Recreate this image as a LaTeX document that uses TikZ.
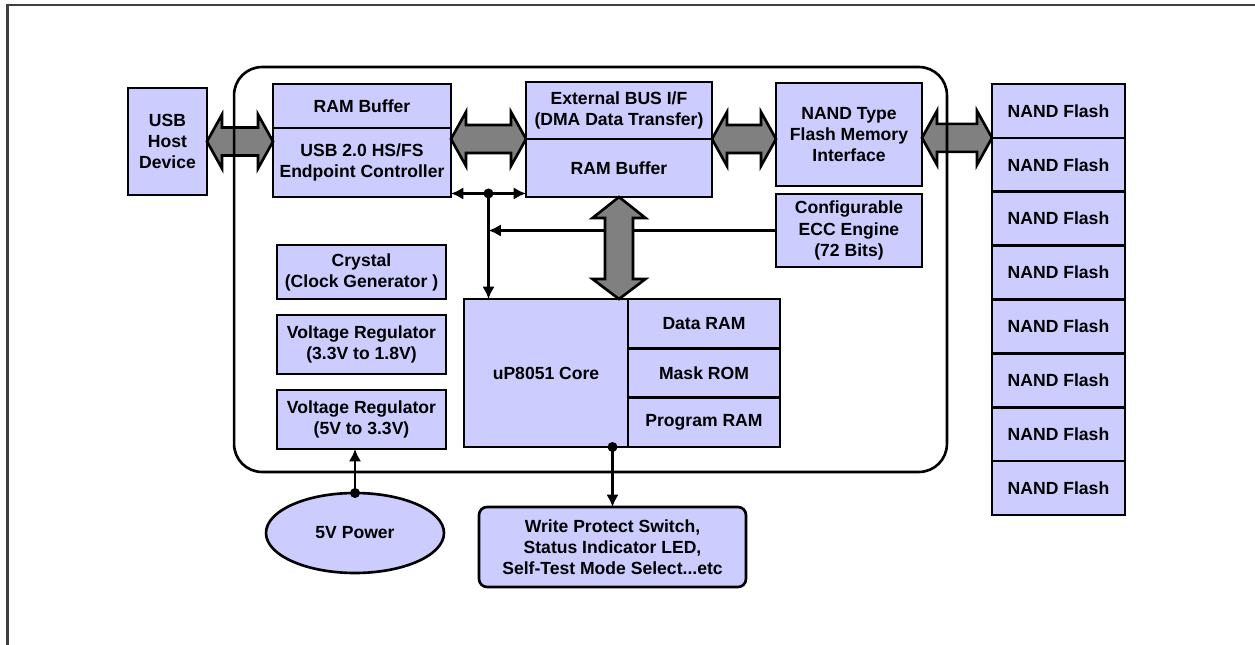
\documentclass[tikz,border=0pt]{standalone}
\usepackage{fontspec}
\setmainfont{Liberation Sans}
\usetikzlibrary{calc,shapes.geometric,arrows.meta}
\definecolor{blkfill}{RGB}{204,204,255}
\definecolor{busgray}{RGB}{128,128,128}
\tikzset{
    blk/.style={draw=black, fill=blkfill, line width=1.5pt, inner sep=0pt, outer sep=0pt,
        align=center, font=\bfseries\fontsize{10}{12}\selectfont},
    bus/.style={fill=busgray, draw=black, line width=1.5pt},
    link/.style={line width=1.6pt},
    chipbox/.style={draw=black, line width=1.5pt, rounded corners=0.56cm, inner sep=0pt}
}
\newcommand\hbus[2]{\filldraw[bus] let \p1=(#1), \p2=(#2) in
    (\x1,\y1) -- (\x1+0.3cm,\y1+0.54cm) -- (\x1+0.3cm,\y1+0.28cm) -- (\x2-0.3cm,\y1+0.28cm)
    -- (\x2-0.3cm,\y1+0.54cm) -- (\x2,\y1) -- (\x2-0.3cm,\y1-0.54cm) -- (\x2-0.3cm,\y1-0.28cm)
    -- (\x1+0.3cm,\y1-0.28cm) -- (\x1+0.3cm,\y1-0.54cm) -- cycle;}
\newcommand\vbus[2]{\filldraw[bus] let \p1=(#1), \p2=(#2) in
    (\x1,\y1) -- (\x1+0.53cm,\y1-0.42cm) -- (\x1+0.28cm,\y1-0.42cm) -- (\x1+0.28cm,\y2+0.4cm)
    -- (\x1+0.53cm,\y2+0.4cm) -- (\x1,\y2) -- (\x1-0.53cm,\y2+0.4cm) -- (\x1-0.28cm,\y2+0.4cm)
    -- (\x1-0.28cm,\y1-0.42cm) -- (\x1-0.53cm,\y1-0.42cm) -- cycle;}

\begin{document}
\begin{tikzpicture}[x=0.02cm, y=-0.02cm, >={Latex[length=7pt,width=7pt]}]
    \useasboundingbox (0,0) rectangle (1255,645);
    \draw[line width=1.5pt, black!75] (7.5,645) -- (7.5,5) -- (1255,5);
    %usb
    \node[blk, minimum width=1.58cm, minimum height=2.14cm] (host) at (167.5,141.5) {USB\\Host\\Device};
    \node[blk, minimum width=3.56cm, minimum height=0.88cm] (ram1) at (362,106) {RAM Buffer};
    \node[blk, minimum width=3.56cm, minimum height=1.38cm] (usbctl) at (362,162.5) {USB 2.0 HS/FS\\Endpoint Controller};
    %bus i/f
    \node[blk, minimum width=3.72cm, minimum height=1.14cm] (extbus) at (619,110.5) {External BUS I/F\\(DMA Data Transfer)};
    \node[blk, minimum width=3.72cm, minimum height=1.16cm] (ram2) at (619,168) {RAM Buffer};
    %nand
    \node[blk, minimum width=2.92cm, minimum height=2.06cm] (nandif) at (849,134.5) {NAND Type\\Flash Memory\\Interface};
    \node[blk, minimum width=2.92cm, minimum height=1.46cm] (ecc) at (849,230.5) {Configurable\\ECC Engine\\(72 Bits)};
    \foreach \i in {1,...,8}
        \node[blk, minimum width=2.66cm, minimum height=1.0775cm] (nand\i) at (1058.5,{84+53.875*(\i-0.5)}) {NAND Flash};
    %power
    \node[blk, minimum width=3.38cm, minimum height=1.08cm] (xtal) at (361.5,272) {Crystal\\(Clock Generator )};
    \node[blk, minimum width=3.38cm, minimum height=1.18cm] (vr1) at (361.5,344.5) {Voltage Regulator\\(3.3V to 1.8V)};
    \node[blk, minimum width=3.38cm, minimum height=1.18cm] (vr2) at (361.5,419.5) {Voltage Regulator\\(5V to 3.3V)};
    \node[blk, ellipse, minimum width=3.56cm, minimum height=1.6cm] (power) at (355,533) {5V Power};
    %core
    \node[blk, minimum width=3.28cm, minimum height=2.96cm] (core) at (546,373) {uP8051 Core};
    \node[blk, minimum width=3.04cm, minimum height=0.9867cm] (dram) at (704,323.67) {Data RAM};
    \node[blk, minimum width=3.04cm, minimum height=0.9867cm] (mrom) at (704,373) {Mask ROM};
    \node[blk, minimum width=3.04cm, minimum height=0.9867cm] (pram) at (704,422.33) {Program RAM};
    \node[blk, rounded corners=0.16cm, minimum width=5.34cm, minimum height=1.6cm] (wps) at (612.5,547)
        {Write Protect Switch,\\Status Indicator LED,\\Self-Test Mode Select...etc};
    %links
    \coordinate (lnkl) at ([yshift=2pt]usbctl.south east);
    \coordinate (lnkr) at ([yshift=2pt]ram2.south west);
    \coordinate (jn) at ($(lnkl)!0.5!(lnkr)$);
    \draw[link,->] (ecc.west) -- (ecc.west -| jn);
    %buses
    \hbus{host.east}{usbctl.west}
    \hbus{usbctl.east |- extbus.south}{extbus.south west}
    \hbus{extbus.south east}{nandif.west}
    \hbus{nandif.east |- nand1.south}{nand1.south west}
    \vbus{ram2.south}{core.north}
    \node[chipbox, minimum width=14.26cm, minimum height=8.1cm] (chip) at (590.5,269.5) {};
    %links
    \draw[link,<->] (lnkl) -- (lnkr);
    \draw[link,->] (jn) -- (jn |- core.north);
    \fill (jn) circle[radius=0.1cm];
    \coordinate (coreout) at (wps.north |- core.south);
    \draw[link,->] (coreout) -- (wps.north);
    \fill (coreout) circle[radius=0.1cm];
    \draw[link,->] (power.north) -- (power.north |- vr2.south);
    \fill (power.north) circle[radius=0.1cm];
\end{tikzpicture}
\end{document}
